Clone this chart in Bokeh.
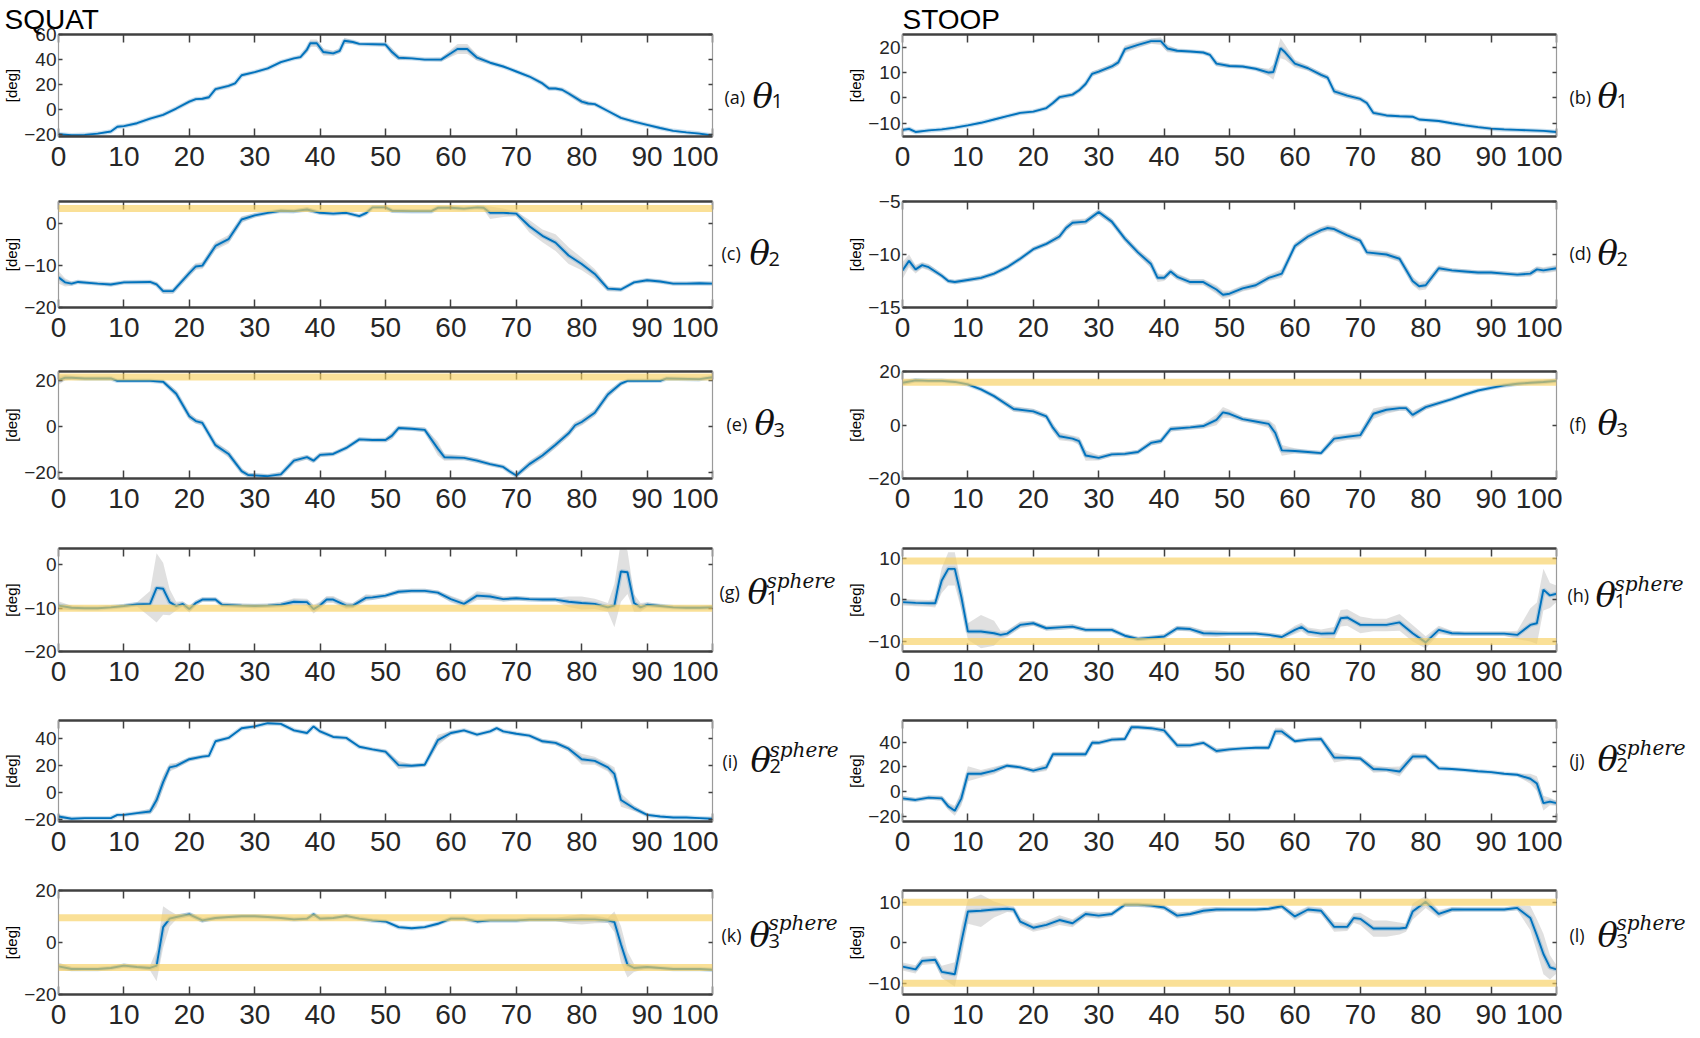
from bokeh.plotting import figure
from bokeh.models import Range1d, FixedTicker, LinearAxis, Span, ColumnDataSource
from bokeh.layouts import column, row
from bokeh.core.properties import value
from bokeh.embed import file_html
from bokeh.resources import INLINE

# ---------------- data: (x [% of cycle], mean [deg], sd [deg]) ----------------
sq_theta1 = [(0,-19.5,1),(2,-20.3,0.8),(4,-20,0.8),(6,-19,0.8),(8,-17.3,0.8),(9,-13.5,1),(10,-13,1),(12,-10.7,1),
             (14,-7,1),(16,-4,1),(18,1,1.2),(20,6.5,1.2),(21,8.5,1),(22,8.8,1),(23,10,1.5),(24,16.5,1.5),(26,19,1.2),
             (27,21,1.2),(28,27.5,1.2),(30,30,1),(32,33,1),(34,38,1),(36,41,1),(37,42,1.2),(38,48,2.5),(38.5,53,3),
             (39.5,53,3),(40.5,46,3),(42,45,2),(43,47,2),(43.7,55,2.5),(45,54,1.5),(46,52.5,1),(50,52,1.5),(51,46,3),
             (52,41.5,2),(54,41,1),(56,40,1),(58.5,40,1.5),(60,45,3),(61,48.5,4),(62.5,48.5,4),(64,41.5,2.5),
             (66,37.5,1.2),(68,34.5,1),(70,30.5,1),(72,26.5,1),(74,21,1.5),(75,17,1.5),(76,17,1.2),(77,16,1.2),
             (78,13,1.5),(80,6.5,2),(81,5,1.5),(82,4.5,1.2),(84,-1,1),(86,-6.5,1),(88,-9.5,1),(90,-12,1),
             (92,-14.5,1),(94,-16.8,0.8),(96,-18,0.8),(98,-19,0.8),(100,-20.5,0.8)]
st_theta1 = [(0,-12.6,0.6),(1,-12.2,0.6),(2,-13.4,0.5),(4,-12.8,0.4),(6,-12.4,0.4),(8,-11.7,0.4),(10,-10.8,0.4),
             (12,-9.8,0.4),(14,-8.5,0.4),(16,-7.2,0.4),(18,-5.9,0.5),(20,-5.4,0.5),(22,-4,0.6),(23,-2,0.8),
             (24,0.3,0.8),(26,1.3,0.8),(27,3,0.8),(28,5.5,1),(29,9.5,1),(30,10.4,1),(32,12.4,1),(33,14,1.2),
             (34,19.2,1.5),(36,20.9,1.2),(38,22.4,1),(39.5,22.4,1.5),(40.5,19.5,1.5),(42,18.6,0.8),(44,18.3,0.6),
             (46,17.9,0.6),(47,17,0.8),(48,13.5,1),(50,12.6,0.8),(52,12.4,0.6),(54,11.5,0.6),(56,10,1.5),
             (56.7,10.2,3),(57.8,19.6,4),(58.5,18,3),(60,13.5,1.5),(62,11.7,1),(64,9.1,1),(65,8,1),(66,2.6,1.2),
             (68,0.9,1),(70,-0.4,0.8),(71,-2,0.8),(72,-5.9,0.8),(74,-6.9,0.6),(76,-7.2,0.5),(78,-7.4,0.5),
             (79,-8.5,0.5),(82,-9.1,0.5),(84,-10,0.5),(86,-10.8,0.5),(88,-11.5,0.5),(90,-12.1,0.5),(92,-12.4,0.5),
             (94,-12.6,0.5),(96,-12.8,0.5),(98,-13,0.5),(100,-13.4,0.5)]
sq_theta2 = [(0,-12.8,1.5),(1,-14,1),(2,-14.3,0.5),(3,-13.9,0.4),(6,-14.3,0.4),(8,-14.5,0.4),(10,-14,0.4),
             (14,-13.9,0.4),(15,-14.5,0.5),(16,-16.1,0.6),(17.5,-16.1,0.6),(20,-11.8,0.8),(21,-10.2,0.8),
             (22,-10,0.8),(24,-5.3,1),(26,-3.7,1),(28,1,0.8),(30,2,0.5),(32,2.6,0.4),(34,3.1,0.4),(36,3,0.4),
             (38,3.4,0.5),(40,2.6,0.4),(42,2.4,0.4),(44,2.6,0.4),(46,1.8,0.4),(47,2.5,0.5),(48,3.9,0.4),
             (50,3.9,0.4),(51,3.1,0.4),(54,3,0.4),(57,3,0.4),(58,3.8,0.4),(60,3.8,0.4),(62,3.6,0.4),(64,3.9,0.4),
             (65,3.8,0.5),(66,2.6,1.5),(68,2.6,1),(70,2.4,0.6),(72,-0.6,1.5),(74,-2.9,1.5),(76,-4.5,2),
             (78,-7.6,2),(80,-9.6,1.5),(82,-12,1.2),(84,-15.5,0.6),(86,-15.7,0.4),(88,-14,0.4),(90,-13.5,0.4),
             (92,-13.8,0.4),(94,-14.3,0.4),(96,-14.3,0.4),(98,-14.2,0.4),(100,-14.3,0.4)]
st_theta2 = [(0,-11.5,0.8),(1,-10.6,0.6),(2,-11.4,0.4),(3,-11,0.3),(4,-11.2,0.3),(6,-12,0.2),(7,-12.5,0.2),
             (8,-12.6,0.2),(10,-12.4,0.2),(12,-12.2,0.2),(14,-11.8,0.2),(16,-11.2,0.2),(18,-10.4,0.2),
             (20,-9.5,0.2),(22,-9,0.2),(24,-8.3,0.3),(25,-7.5,0.3),(26,-7,0.3),(28,-6.9,0.3),(30,-6,0.3),
             (32,-6.9,0.3),(34,-8.5,0.3),(36,-9.8,0.3),(38,-10.9,0.4),(39,-12.2,0.4),(40,-12.2,0.3),
             (41,-11.6,0.3),(42,-12.1,0.3),(44,-12.6,0.3),(46,-12.6,0.3),(48,-13.3,0.4),(49,-13.8,0.4),
             (50,-13.7,0.3),(52,-13.2,0.3),(54,-12.9,0.3),(56,-12.2,0.3),(58,-11.8,0.4),(60,-9.2,0.3),
             (62,-8.3,0.3),(64,-7.7,0.3),(65,-7.5,0.3),(66,-7.6,0.3),(68,-8.2,0.3),(70,-8.7,0.3),(71,-9.8,0.3),
             (74,-10,0.3),(76,-10.4,0.3),(78,-12.5,0.4),(79,-13,0.4),(80,-12.9,0.4),(82,-11.3,0.3),
             (84,-11.5,0.2),(86,-11.6,0.2),(88,-11.7,0.2),(90,-11.7,0.2),(92,-11.8,0.2),(94,-11.9,0.2),
             (96,-11.8,0.3),(97,-11.4,0.3),(98,-11.5,0.3),(100,-11.3,0.3)]
sq_theta3 = [(0,20,2),(1,21,1.2),(2,21,0.8),(4,20.7,0.6),(8,20.7,0.6),(9,19.7,0.5),(14,19.7,0.5),(16,19.3,0.8),
             (18,14.1,1.5),(20,4.4,1.5),(21,2.3,1.2),(22,1.5,1.2),(24,-8.1,1.5),(26,-11.9,1.5),(28,-19.3,1.2),
             (29,-21,1),(32,-21.5,0.8),(34,-20.7,1),(36,-14.8,1.2),(38,-13.3,1),(39,-14.8,1),(40,-12.3,1),
             (42,-11.9,0.8),(44,-9.3,0.8),(46,-5.6,0.8),(48,-5.9,0.8),(50,-5.9,1),(51,-4,1.5),(52,-0.7,1),
             (54,-1,0.8),(56,-1.5,1),(58,-9.6,3),(59,-13.3,1.5),(62,-13.6,1),(64,-14.8,1),(66,-16.3,0.8),
             (68,-17.5,0.8),(69,-19.5,0.8),(70,-21.2,1),(72,-16.3,1.5),(74,-12.6,1.5),(76,-7.9,1.5),
             (78,-3,1.5),(79,0.5,1.5),(80,1.9,1.5),(82,5.9,1.5),(84,13.8,1.5),(86,18.5,1),(87,19.7,0.6),
             (92,19.7,0.5),(93,20.7,0.6),(98,20.4,0.6),(100,21.2,0.6)]
st_theta3 = [(0,15.8,1),(2,16.7,0.6),(4,16.5,0.5),(6,16.5,0.5),(8,16.1,0.5),(10,15.2,0.5),(12,13.3,0.6),
             (14,10.8,0.8),(16,7.6,1),(17,6,1),(20,5.1,1),(22,3.2,1),(23,-1,1.5),(24,-4.2,1.5),(26,-5.1,1.2),
             (27,-6,1.5),(28,-11.4,2),(30,-12.3,1),(32,-11,0.8),(34,-10.8,0.8),(36,-10.1,0.8),(38,-6.7,1),
             (39.5,-6,1),(41,-1.5,1),(44,-0.9,0.8),(46,-0.4,1),(48,1.9,2),(49,4.7,2),(50,4.2,1.5),(52,2.2,1),
             (54,1.3,1),(56,0.4,1.5),(57,-3,3),(58,-9.5,2),(60,-9.7,1),(62,-10.1,0.8),(64,-10.5,0.8),
             (66,-5.1,1.5),(68,-4.4,1.2),(70,-3.8,1.5),(72,4.2,2),(74,5.7,1.5),(76,6.3,1),(77,6.3,1),
             (78,3.8,1.5),(80,6.7,1),(82,8.2,0.8),(84,9.7,0.6),(86,11.4,0.6),(88,12.9,0.6),(90,13.9,0.6),
             (92,14.8,0.6),(94,15.4,0.6),(96,15.8,0.6),(98,16.1,0.6),(100,16.5,0.6)]
sq_sphere1 = [(0,-9.4,1),(2,-9.9,0.5),(4,-10,0.3),(6,-10,0.3),(8,-9.8,0.3),(10,-9.5,0.4),(12,-9.1,0.5),
              (14,-9,3),(15,-5.3,8),(16,-5.5,6),(17,-8.6,3),(18,-9.5,1),(19,-9,0.6),(20,-10.2,0.8),
              (21,-8.8,0.6),(22,-8,0.5),(24,-8,0.5),(25,-9.2,0.5),(28,-9.4,0.5),(30,-9.5,0.5),(32,-9.4,0.5),
              (34,-9.2,0.6),(36,-8.5,0.8),(38,-8.6,0.8),(39,-10.2,1),(40,-9.3,0.8),(41,-8,0.8),(42,-8,0.8),
              (44,-9.4,0.8),(45,-9.4,0.6),(47,-7.6,0.8),(48,-7.5,0.6),(50,-7.1,0.5),(52,-6.2,0.5),(54,-6,0.5),
              (56,-6,0.5),(58,-6.4,0.5),(60,-7.9,0.8),(62,-9,0.8),(64,-7.1,1),(66,-7.3,0.8),(68,-7.9,0.6),
              (70,-7.7,0.5),(72,-7.9,0.5),(74,-8,0.5),(76,-8,0.5),(78,-8.5,1.2),(80,-8.8,1.5),(82,-9,1.2),
              (84,-9.8,1),(85,-9.4,5),(86,-1.5,7),(87,-1.7,5),(88,-8.8,2),(89,-9.8,1),(90,-9.2,0.6),
              (92,-9.5,0.4),(94,-9.8,0.3),(96,-9.9,0.3),(98,-9.9,0.3),(100,-9.8,0.4)]
st_sphere1 = [(0,-0.6,0.8),(2,-0.8,0.8),(4,-0.9,0.8),(5,-0.9,1),(6,4.6,3),(7,7.4,4),(8,7.4,4),(9,0.6,3),
              (10,-7.7,2),(12,-7.7,4),(14,-8.1,3),(15,-8.5,1),(16,-8.2,0.8),(18,-6.1,0.8),(20,-5.7,0.6),
              (22,-6.9,0.6),(24,-6.7,0.6),(26,-6.5,0.6),(28,-7.3,0.5),(30,-7.3,0.5),(32,-7.3,0.5),
              (34,-8.7,0.5),(36,-9.5,0.5),(38,-9.2,0.5),(40,-8.9,0.6),(42,-6.9,0.6),(44,-7.1,0.6),
              (46,-8.1,0.8),(48,-8.2,0.8),(50,-8.2,0.5),(52,-8.2,0.5),(54,-8.2,0.5),(56,-8.5,0.5),(58,-9,0.6),
              (60,-7.3,1),(61,-6.6,1),(62,-7.7,1),(64,-8.2,1),(66,-8.1,1.5),(67,-4.5,2),(68,-4.3,2),
              (70,-6.1,2),(72,-6.1,1.5),(74,-6.1,1.5),(76,-5.5,2),(78,-8.1,2),(80,-10.3,1.5),(82,-7.3,1),
              (84,-8.1,0.6),(86,-8.2,0.5),(88,-8.2,0.5),(90,-8.2,0.5),(92,-8.2,0.5),(94,-8.5,1),(96,-6.1,4),
              (97,-5.7,5),(98,2.4,5),(99,1,3),(100,1.4,2)]
sq_sphere2 = [(0,-17.5,1.5),(2,-19.2,0.8),(4,-18.7,0.6),(8,-18.7,0.6),(9,-16.3,0.8),(10,-16.3,0.8),(12,-15,1),
              (14,-13.8,2),(15,-5.3,5),(16,8,5),(17,18.9,3),(18,20.1,2),(20,25,1.5),(22,26.9,1.2),(23,27.5,1),
              (24,38.3,1.2),(26,40.8,1),(28,48,1),(30,49.3,1),(32,51.7,1),(34,51.2,1),(36,46.4,1.2),
              (38,44.4,1),(39,49.3,1),(40,45.6,1.2),(42,41.5,1),(44,40.8,1),(46,34.2,1),(48,32.3,1),
              (50,30.6,1.5),(52,20.6,3),(54,20.1,1.2),(56,20.9,1.5),(58,39.1,4),(60,44.4,1.5),(62,46.4,1),
              (64,43.2,1),(66,45.6,1),(67,48,1),(68,45.6,1),(70,43.9,1),(72,42.5,1),(74,38.3,1.5),
              (76,37.1,1.5),(78,32.8,2),(80,25,4),(82,23.8,3),(84,18.9,3),(85,14.1,5),(86,-5.3,5),
              (88,-11.4,2),(90,-16.3,1),(92,-17.5,0.8),(94,-18.2,0.6),(96,-18.2,0.6),(98,-18.7,0.6),
              (100,-19.2,0.6)]
st_sphere2 = [(0,-5.3,2),(2,-6.6,1.5),(4,-4.7,1.5),(6,-5.3,2),(7,-11.8,3),(8,-15.3,4),(9,-5.3,6),(10,14.5,6),
              (12,14.5,3),(14,17.1,3),(16,21,1.5),(18,19.7,1.5),(20,17.1,2),(22,19.7,3),(23,30.3,2),
              (28,30.3,2),(29,39.5,2),(30,39.5,1.5),(32,42.1,1.5),(34,42.6,1.5),(35,52.1,2),(36,52.1,1.5),
              (38,51.3,1.5),(40,49.5,2),(42,37.4,2),(44,37.4,1.5),(46,39.5,1.5),(48,32.9,2),(50,34.2,1.5),
              (52,35,1),(54,35.5,1),(56,35.5,1.5),(57,48.7,3),(58,48.7,3),(60,40.8,1.5),(62,42.1,1.5),
              (64,42.6,2),(66,27.6,4),(68,27.4,2),(70,26.8,2),(72,18.4,3),(74,17.9,2),(76,16.3,4),
              (78,28.4,3),(80,28.4,2),(82,18.9,1.5),(84,18.4,1),(86,17.6,1),(88,16.6,1),(90,15.8,1),
              (92,14.5,1),(94,13.7,1),(96,10.5,4),(97,6.6,6),(98,-9.2,6),(99,-7.9,3),(100,-9.2,2)]
sq_sphere3 = [(0,-9.2,1.5),(2,-10.2,0.8),(4,-10.2,0.5),(6,-10.2,0.5),(8,-9.8,0.6),(10,-8.9,0.8),(12,-9.4,0.6),
              (14,-9.8,1),(15,-8.9,6),(16,5.9,8),(17,9.2,3),(18,9.8,1),(20,10.8,0.8),(22,8.5,0.8),
              (24,9.4,0.6),(26,9.8,0.5),(28,10.1,0.5),(30,10.1,0.5),(32,9.8,0.5),(34,9.4,0.5),(36,8.9,0.5),
              (38,9.2,0.5),(39,10.8,0.6),(40,9.2,0.6),(42,9.4,0.5),(44,10.2,0.5),(46,9.2,0.5),(48,8.5,0.5),
              (50,8.1,0.5),(52,5.9,0.6),(54,5.5,0.5),(56,5.9,0.5),(58,7.2,0.6),(60,9.2,0.6),(62,9.2,0.6),
              (64,8.1,0.5),(66,8.5,0.5),(70,8.5,0.5),(72,8.8,0.5),(76,8.8,0.5),(78,8.8,1.5),(80,8.9,2),
              (82,8.9,1.5),(84,8.5,1),(85,7.9,4),(86,-0.7,7),(87,-8.5,5),(88,-9.8,1.5),(90,-9.4,0.6),
              (92,-9.8,0.5),(94,-10.2,0.5),(96,-10.2,0.5),(98,-10.2,0.5),(100,-10.5,0.5)]
st_sphere3 = [(0,-5.9,1),(2,-6.6,1),(3,-4.5,1),(5,-4.2,1),(6,-7.2,1.5),(8,-7.8,3),(9,0.2,4),(10,7.7,3),
              (12,7.9,4),(14,8.2,2),(16,8.4,0.8),(17,8.2,0.8),(18,5.2,1),(20,3.7,1),(22,4.4,1),(24,5.6,1.2),
              (26,4.8,1),(28,7.1,0.8),(30,6.7,0.8),(32,7.1,0.6),(34,9.4,0.5),(36,9.4,0.5),(38,9.2,0.5),
              (40,8.7,0.6),(42,6.7,0.8),(44,7.1,0.6),(46,7.9,0.8),(48,8.2,0.6),(50,8.2,0.5),(54,8.2,0.5),
              (56,8.4,0.5),(58,9,0.6),(60,6.5,1),(62,8.2,0.8),(64,7.9,0.8),(66,3.9,1.2),(68,3.9,1),
              (69,6.1,1.2),(70,5.9,1.5),(72,3.5,2),(74,3.5,2),(76,3.5,1.5),(77,3.7,1),(78,7.7,2),
              (80,10.1,1.5),(82,7.1,1),(84,8.2,0.6),(86,8.2,0.5),(92,8.2,0.5),(94,8.6,0.6),(96,6.1,3),
              (97,1.8,4),(98,-2.8,5),(99,-6.1,3),(100,-6.6,1)]

x_ticks = [0, 10, 20, 30, 40, 50, 60, 70, 80, 90, 100]
column_titles = ["SQUAT", "STOOP"]
panel_letters_left = ["a", "c", "e", "g", "i", "k"]
panel_letters_right = ["b", "d", "f", "h", "j", "l"]
angle_index = ["1", "2", "3", "1", "2", "3"]
is_sphere = [False, False, False, True, True, True]

y_limits_left = [(-21.3, 60), (-20, 5.3), (-22.5, 23.7), (-20, 3.8), (-21.2, 53.7), (-20, 20)]
y_ticks_left = [[-20, 0, 20, 40, 60], [-20, -10, 0], [-20, 0, 20], [-20, -10, 0], [-20, 0, 20, 40], [-20, 0, 20]]
bounds_left = [[], [3.6], [21.3], [-10], [], [9.5, -9.6]]
y_limits_right = [(-15.2, 25), (-15, -5), (-20, 20), (-12.5, 12.3), (-24, 57.5), (-12.8, 12.9)]
y_ticks_right = [[-10, 0, 10, 20], [-15, -10, -5], [-20, 0, 20], [-10, 0, 10], [-20, 0, 20, 40], [-10, 0, 10]]
bounds_right = [[], [], [16], [9.3, -10.1], [], [10, -10]]

data_left = [sq_theta1, sq_theta2, sq_theta3, sq_sphere1, sq_sphere2, sq_sphere3]
data_right = [st_theta1, st_theta2, st_theta3, st_sphere1, st_sphere2, st_sphere3]

# ---------------- layout geometry (pixels) ----------------
FRAME_H = [102, 106, 107, 103, 101, 104]
TOP_B = [34, 12, 12, 12, 12, 12]
BOT_B = [53, 52, 58, 57, 57, 44]
LAB_DY_L = [80, 70, 74, 60, 55, 56]     # label placement below frame top (render-calibrated)
LAB_DY_R = [80, 70, 74, 65, 53, 56]
LAB_X_L = [6, 3, 8, 1, 4, 3]            # label start inside label strip
LAB_X_R = [7, 7, 7, 5, 7, 7]
FRAME_W = 656
LEFT_B = 56
RIGHT_B = 6
LAB_W_L = 126
LAB_W_R = 138

NUM_FONT = "Liberation Sans"
BLUE = "#0072BD"
YELLOW = "#F7D060"
INK = "#111111"


def blank(w, h):
    p = figure(width=w, height=h, x_range=Range1d(0, w), y_range=Range1d(0, h),
               output_backend="svg", toolbar_location=None, min_border=0,
               min_border_left=0, min_border_right=0, min_border_top=0, min_border_bottom=0,
               x_axis_location=None, y_axis_location=None, outline_line_color=None)
    p.grid.grid_line_color = None
    return p


def style(ax, labels, tick_in, line_color, line_width, font_size="26px"):
    ax.major_tick_in = tick_in
    ax.major_tick_out = 0
    ax.minor_tick_line_color = None
    ax.major_tick_line_color = "#404040"
    ax.major_tick_line_width = 1.5
    ax.axis_line_color = line_color
    ax.axis_line_width = line_width
    if labels:
        ax.major_label_text_font = NUM_FONT
        ax.major_label_text_font_size = font_size
        ax.major_label_text_color = "#262626"
    else:
        ax.major_label_text_color = None
        ax.major_label_text_font_size = "0px"
        ax.major_label_standoff = 0


def panel(data, ylim, yticks, bounds, i, title=None, title_offset=0):
    xs = [d[0] for d in data]
    ms = [d[1] for d in data]
    lo = [d[1] - d[2] for d in data]
    hi = [d[1] + d[2] for d in data]
    src = ColumnDataSource(dict(x=xs, m=ms, lo=lo, hi=hi))
    p = figure(width=LEFT_B + FRAME_W + RIGHT_B, height=TOP_B[i] + FRAME_H[i] + BOT_B[i],
               x_range=Range1d(0, 100), y_range=Range1d(*ylim),
               output_backend="svg", toolbar_location=None,
               x_axis_location=None, y_axis_location=None,
               min_border_left=LEFT_B, min_border_right=RIGHT_B,
               min_border_top=TOP_B[i], min_border_bottom=BOT_B[i],
               outline_line_color=None)
    if title is not None:
        p.title.text = title
        p.title.text_font = "Liberation Sans"
        p.title.text_font_size = "28px"
        p.title.text_font_style = "normal"
        p.title.text_color = "#000000"
        p.title.align = "left"
        p.title.offset = title_offset
        p.title.standoff = 0
    p.grid.grid_line_color = None
    p.varea(x="x", y1="lo", y2="hi", source=src, fill_color="#d6d6d6", fill_alpha=0.75)
    p.line("x", "m", source=src, line_color=BLUE, line_width=4.5, line_alpha=0.22)
    p.line("x", "m", source=src, line_color=BLUE, line_width=1.9)
    for b in bounds:
        p.add_layout(Span(location=b, dimension="width", line_color=YELLOW,
                          line_alpha=0.65, line_width=7))
    xb = LinearAxis(ticker=FixedTicker(ticks=x_ticks))
    style(xb, True, 8, "#404040", 2.5, "28px")
    xb.major_label_standoff = 10
    p.add_layout(xb, "below")
    xt = LinearAxis(ticker=FixedTicker(ticks=x_ticks))
    style(xt, False, 8, "#404040", 2.5)
    p.add_layout(xt, "above")
    yl = LinearAxis(ticker=FixedTicker(ticks=yticks), axis_label="[deg]")
    style(yl, True, 4, "#9a9a9a", 1.2, "19px")
    yl.major_label_standoff = 2
    yl.axis_label_standoff = 1
    yl.axis_label_text_font = "Liberation Sans"
    yl.axis_label_text_font_size = "15px"
    yl.axis_label_text_font_style = "normal"
    yl.axis_label_text_color = "#000000"
    p.add_layout(yl, "left")
    yr = LinearAxis(ticker=FixedTicker(ticks=yticks))
    style(yr, False, 4, "#9a9a9a", 1.2)
    p.add_layout(yr, "right")
    return p


def label_strip(w, i, x0, dy, letter):
    h = TOP_B[i] + FRAME_H[i] + BOT_B[i]
    p = blank(w, h)
    yc = h - (TOP_B[i] + dy)
    p.text(x=[x0], y=[yc - 1], text=["(" + letter + ")"], text_font=value("Open Sans"),
           text_font_size="18px", text_baseline="middle", text_align="left", text_color=INK)
    p.text(x=[x0 + 28], y=[yc], text=["θ"], text_font=value("DejaVu Serif"),
           text_font_style="italic", text_font_size="34px", text_baseline="middle",
           text_align="left", text_color=INK)
    p.text(x=[x0 + 47], y=[yc - 10], text=[angle_index[i]], text_font=value("Open Sans"),
           text_font_size="20px", text_baseline="middle", text_align="left", text_color=INK)
    if is_sphere[i]:
        p.text(x=[x0 + 47], y=[yc + 18], text=["sphere"], text_font=value("DejaVu Serif"),
               text_font_style="italic", text_font_size="20px", text_baseline="middle",
               text_align="left", text_color=INK)
    return p


rows = []
for i in range(6):
    pl = panel(data_left[i], y_limits_left[i], y_ticks_left[i], bounds_left[i], i,
               title=column_titles[0] if i == 0 else None, title_offset=-54)
    ll = label_strip(LAB_W_L, i, LAB_X_L[i], LAB_DY_L[i], panel_letters_left[i])
    pr = panel(data_right[i], y_limits_right[i], y_ticks_right[i], bounds_right[i], i,
               title=column_titles[1] if i == 0 else None, title_offset=0)
    lr = label_strip(LAB_W_R, i, LAB_X_R[i], LAB_DY_R[i], panel_letters_right[i])
    rows.append(row(pl, ll, pr, lr))

page = column(*rows)
open("out.html", "w").write(file_html(page, INLINE))
